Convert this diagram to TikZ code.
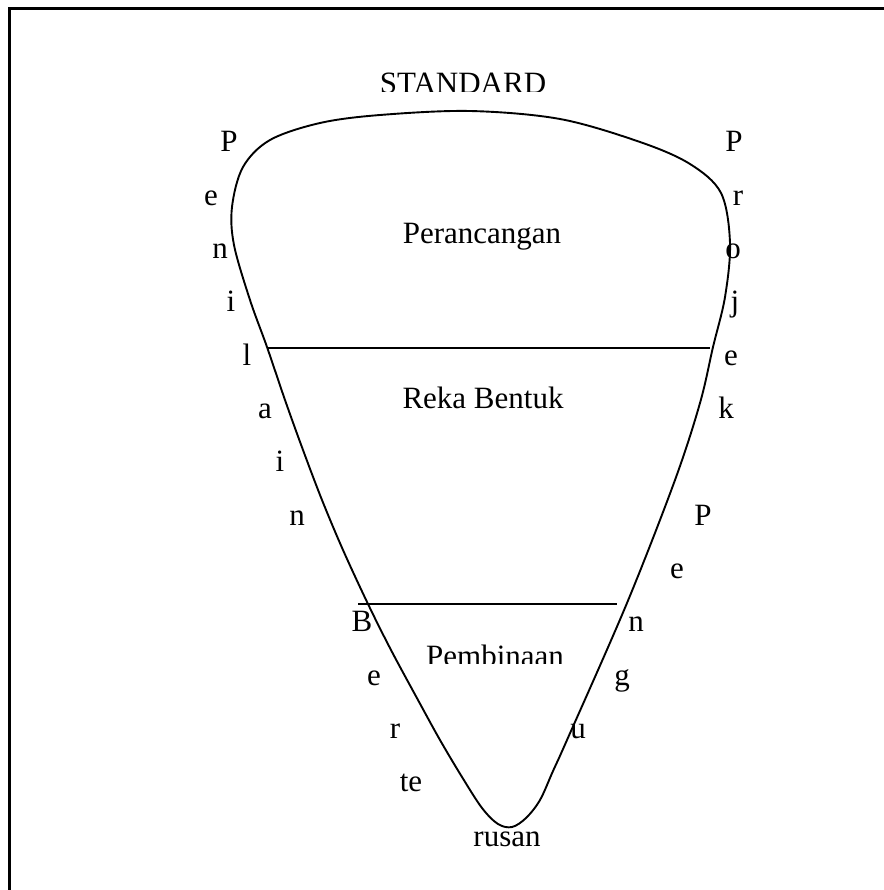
\documentclass[tikz,border=0pt]{standalone}
\usepackage{fontspec}
\setmainfont{Liberation Serif}
\begin{document}
\begin{tikzpicture}[x=1pt,y=-1pt,
  lbl/.style={anchor=base,inner sep=0pt,font=\fontsize{31}{36}\selectfont},
  outline/.style={line width=1.9pt},
  divider/.style={line width=1.9pt}]
\useasboundingbox (0,0) rectangle (883,890);
% frame (only top and left edges visible)
\draw[line width=2.4pt] (9.3,892) -- (9.3,8.7) -- (885,8.7);
% funnel outline
\draw[outline] plot[smooth cycle, tension=0.55] coordinates {
 (512,827) (526,818) (540,800) (553,771) (567,740) (627,603) (675,480) (700,403) (713,347)
 (725,297) (730,243) (721,193) (690,164) (640,142) (560,119) (470,111)
 (380,115) (320,123) (270,140) (243,167) (232,207) (234,245) (250,300)
 (267,347) (285,400) (303,450) (322,500) (343,550) (368,604) (391,650)
 (418,700) (440,740) (462,777) (482,808) (498,824)};
% dividers
\coordinate (d1a) at (267,348);
\coordinate (d1b) at (710,348);
\coordinate (d2a) at (358,604);
\coordinate (d2b) at (617,604);
\draw[divider] (d1a) -- (d1b);
\draw[divider] (d2a) -- (d2b);
% clipped titles
\begin{scope}
\clip (300,0) rectangle (640,92);
\node[lbl] (std) at (463,94) {STANDARD};
\end{scope}
\begin{scope}
\clip (380,600) rectangle (610,663.5);
\node[lbl] (pem) at (495,666) {Pembinaan};
\end{scope}
\node[lbl] (per) at (482,244) {Perancangan};
\node[lbl] (reka) at (483,408) {Reka Bentuk};
% left column
\node[lbl] (l1) at (229,152) {P};
\node[lbl] (l2) at (211,205.3) {e};
\node[lbl] (l3) at (220,258.6) {n};
\node[lbl] (l4) at (231,311.9) {i};
\node[lbl] (l5) at (247,365.2) {l};
\node[lbl] (l6) at (265,418.5) {a};
\node[lbl] (l7) at (280,471.8) {i};
\node[lbl] (l8) at (297,525.1) {n};
\node[lbl] (l9) at (362,631.7) {B};
\node[lbl] (l10) at (374,685) {e};
\node[lbl] (l11) at (395,738.3) {r};
\node[lbl] (l12) at (411,791.6) {te};
\node[lbl] (l13) at (507,846) {rusan};
% right column
\node[lbl] (r1) at (734,152) {P};
\node[lbl] (r2) at (738,205.3) {r};
\node[lbl] (r3) at (733,258.6) {o};
\node[lbl] (r4) at (735,311.9) {j};
\node[lbl] (r5) at (731,365.2) {e};
\node[lbl] (r6) at (726,418.5) {k};
\node[lbl] (r7) at (703,525.1) {P};
\node[lbl] (r8) at (677,578.4) {e};
\node[lbl] (r9) at (636,631.7) {n};
\node[lbl] (r10) at (622,685) {g};
\node[lbl] (r11) at (578,738.3) {u};
\end{tikzpicture}
\end{document}
